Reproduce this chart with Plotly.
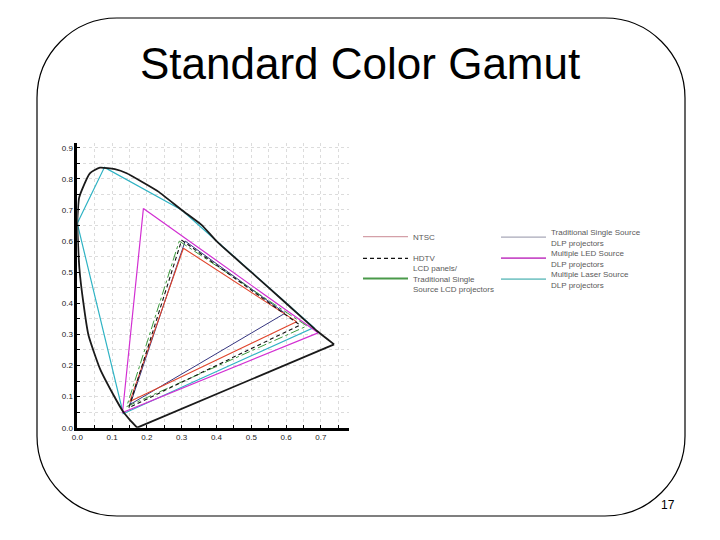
import plotly.graph_objects as go

# CIE 1931 spectral locus (x, y)
LOCUS_X = [0.172, 0.151, 0.132, 0.104, 0.065, 0.032, 0.017, 0.006, 0.0, 0.005, 0.013,
           0.036, 0.065, 0.108, 0.142, 0.185, 0.233, 0.30, 0.357, 0.40, 0.50, 0.60,
           0.69, 0.738]
LOCUS_Y = [0.0, 0.025, 0.051, 0.105, 0.19, 0.298, 0.405, 0.512, 0.662, 0.738, 0.764,
           0.818, 0.836, 0.831, 0.818, 0.791, 0.759, 0.70, 0.652, 0.60, 0.50, 0.40,
           0.31, 0.268]

# gamut corners
NTSC_X = [0.305, 0.630, 0.151]
NTSC_Y = [0.577, 0.341, 0.084]
HDTV_X = [0.300, 0.640, 0.148]
HDTV_Y = [0.603, 0.330, 0.064]
LCD_X = [0.293, 0.660, 0.142]
LCD_Y = [0.600, 0.327, 0.068]
DLP_X = [0.310, 0.597, 0.152]
DLP_Y = [0.600, 0.368, 0.075]
LED_X = [0.190, 0.692, 0.130]
LED_Y = [0.705, 0.305, 0.049]
LASER_X = [0.0, 0.078, 0.300, 0.680, 0.132]
LASER_Y = [0.657, 0.837, 0.700, 0.322, 0.045]

LEGEND_COL1 = ["NTSC", "HDTV", "LCD panels/<br>Traditional Single<br>Source LCD projectors"]
LEGEND_COL2 = ["Traditional Single Source<br>DLP projectors",
               "Multiple LED Source<br>DLP projectors",
               "Multiple Laser Source<br>DLP projectors"]

X_TICKS = [0.0, 0.1, 0.2, 0.3, 0.4, 0.5, 0.6, 0.7]
Y_TICKS = [0.0, 0.1, 0.2, 0.3, 0.4, 0.5, 0.6, 0.7, 0.8, 0.9]

# the page puts the figure 8px in from the top-left corner of the window
OFF = 8
W, H = 720 - OFF, 540 - OFF
FONT = "Liberation Sans, Arial, sans-serif"


def px(x):
    return (x - OFF) / W


def py(y):
    return 1 - (y - OFF) / H


def closed(v):
    return list(v) + [v[0]]


fig = go.Figure()

gamuts = [
    (LASER_X, LASER_Y, "#2fb3c4", None, 1.2),
    (LED_X, LED_Y, "#d22fd2", None, 1.2),
    (DLP_X, DLP_Y, "#35357f", None, 1.0),
    (LCD_X, LCD_Y, "#3c9a3c", "dashdot", 1.0),
    (NTSC_X, NTSC_Y, "#e0452c", None, 1.1),
    (HDTV_X, HDTV_Y, "#111111", "4px,3px", 1.1),
]
for gx, gy, col, dash, w in gamuts:
    fig.add_trace(go.Scatter(x=closed(gx), y=closed(gy), mode="lines",
                             line=dict(color=col, width=w, dash=dash),
                             showlegend=False, hoverinfo="skip"))

# curved part of the locus, then the straight line of purples
fig.add_trace(go.Scatter(x=LOCUS_X, y=LOCUS_Y, mode="lines",
                         line=dict(color="#1a1a1a", width=1.8, shape="spline", smoothing=0.5),
                         showlegend=False, hoverinfo="skip"))
fig.add_trace(go.Scatter(x=[LOCUS_X[-1], LOCUS_X[0]], y=[LOCUS_Y[-1], LOCUS_Y[0]],
                         mode="lines", line=dict(color="#1a1a1a", width=1.8),
                         showlegend=False, hoverinfo="skip"))

# legend entries (two columns, each entry its own legend box)
leg_styles1 = [("#d4a0a8", None, 1.2), ("#111111", "4px,3px", 1.2), ("#4a9a4a", None, 2.0)]
leg_styles2 = [("#a8a8b8", None, 1.2), ("#c850c8", None, 1.8), ("#80c8c8", None, 1.8)]
leg_y1 = [236.7, 258.3, 279.0]
leg_y2 = [237.3, 258.3, 279.3]

n = 0
for col_x, names, styles, ys in [(364, LEGEND_COL1, leg_styles1, leg_y1),
                                 (502, LEGEND_COL2, leg_styles2, leg_y2)]:
    for name, (c, d, w), yy in zip(names, styles, ys):
        n += 1
        key = "legend" if n == 1 else "legend%d" % n
        fig.add_trace(go.Scatter(x=[None], y=[None], mode="lines", name=name,
                                 line=dict(color=c, width=w, dash=d), legend=key))
        fig.update_layout({key: dict(x=px(col_x - 6), y=py(yy), xanchor="left",
                                     yanchor="middle", bgcolor="rgba(0,0,0,0)",
                                     itemwidth=45, itemclick=False,
                                     font=dict(family=FONT, size=8, color="#5a5a5a"))})

axis_common = dict(
    showgrid=True, gridcolor="#dcdcdc", griddash="dot", gridwidth=1,
    showline=True, linecolor="#000000", linewidth=2.5,
    ticks="inside", ticklen=3, tickcolor="#000000", tickwidth=1,
    zeroline=False, tickformat=".1f", automargin=False,
    tickfont=dict(family=FONT, size=8, color="#222222"),
    minor=dict(dtick=0.05, showgrid=True, gridcolor="#dcdcdc", griddash="dot",
               ticks="inside", ticklen=3, tickcolor="#000000"),
)

fig.update_xaxes(range=[0, 0.78], tickvals=X_TICKS, domain=[px(77.3), px(348.7)], **axis_common)
fig.update_yaxes(range=[0, 0.915], tickvals=Y_TICKS, domain=[py(427.7), py(143.1)],
                 **axis_common)

# slide frame with rounded corners
x0, x1 = px(37), px(685)
y0, y1 = py(516), py(18)
rx, ry = 80 / W, 80 / H
k = 0.45
frame = (f"M{x0 + rx},{y1} L{x1 - rx},{y1} "
         f"C{x1 - rx * k},{y1} {x1},{y1 - ry * k} {x1},{y1 - ry} "
         f"L{x1},{y0 + ry} "
         f"C{x1},{y0 + ry * k} {x1 - rx * k},{y0} {x1 - rx},{y0} "
         f"L{x0 + rx},{y0} "
         f"C{x0 + rx * k},{y0} {x0},{y0 + ry * k} {x0},{y0 + ry} "
         f"L{x0},{y1 - ry} "
         f"C{x0},{y1 - ry * k} {x0 + rx * k},{y1} {x0 + rx},{y1} Z")
fig.add_shape(type="path", path=frame, xref="paper", yref="paper",
              line=dict(color="#000000", width=1.2), layer="below")

fig.add_annotation(text="Standard Color Gamut", x=px(360), y=py(63), xref="paper",
                   yref="paper", showarrow=False, xanchor="center", yanchor="middle",
                   font=dict(family=FONT, size=44, color="#000000"))
fig.add_annotation(text="17", x=px(668), y=py(505), xref="paper", yref="paper",
                   showarrow=False, xanchor="center", yanchor="middle",
                   font=dict(family=FONT, size=12, color="#000000"))

fig.update_layout(width=W, height=H, margin=dict(l=0, r=0, t=0, b=0),
                  paper_bgcolor="#ffffff", plot_bgcolor="#ffffff")

fig.write_html("out.html")
